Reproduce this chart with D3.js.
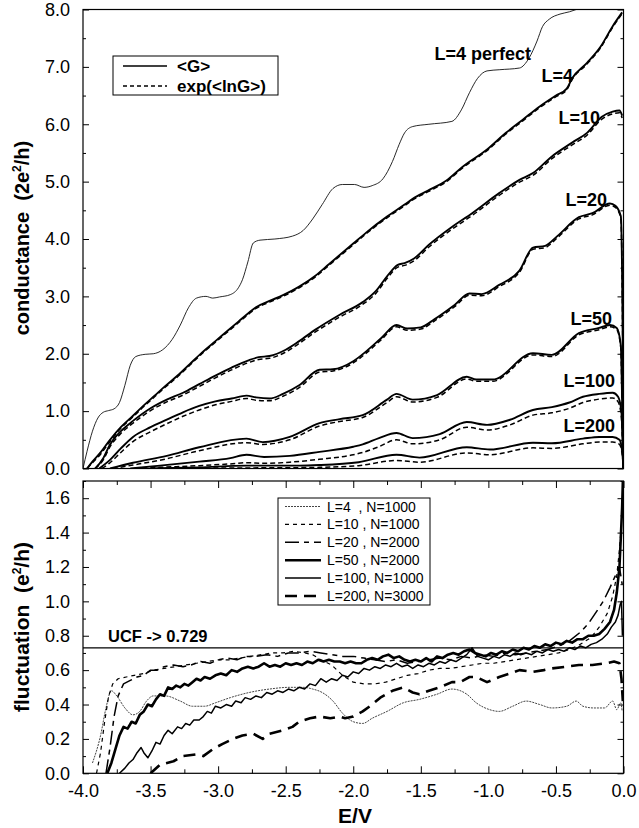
<!DOCTYPE html>
<html><head><meta charset="utf-8">
<script src="https://cdn.jsdelivr.net/npm/d3@7"></script>
<style>html,body{margin:0;padding:0;background:#fff}</style>
</head><body>
<svg id="chart" width="639" height="828"></svg>
<script>
// ---------------- DATA ----------------
// x values: E/V ; top panel: conductance (2e^2/h) ; bottom: fluctuation (e^2/h)
const yTicksTop = ["0.0","1.0","2.0","3.0","4.0","5.0","6.0","7.0","8.0"];
const yTicksBot = ["0.0","0.2","0.4","0.6","0.8","1.0","1.2","1.4","1.6"];
const xTicks = ["-4.0","-3.5","-3.0","-2.5","-2.0","-1.5","-1.0","-0.5","0.0"];

const G_perfect = [[-4.00,0],[-3.97,0.3],[-3.93,0.65],[-3.89,0.88],[-3.85,0.98],[-3.81,1.01],[-3.77,1.04],[-3.73,1.15],[-3.69,1.45],[-3.65,1.8],[-3.61,1.95],[-3.54,1.99],[-3.48,2.0],[-3.41,2.07],[-3.34,2.25],[-3.28,2.5],[-3.22,2.8],[-3.16,2.97],[-3.09,3.0],[-3.04,2.97],[-2.99,2.99],[-2.91,3.03],[-2.85,3.15],[-2.82,3.29],[-2.78,3.6],[-2.74,3.93],[-2.69,3.98],[-2.58,4.0],[-2.45,4.05],[-2.37,4.15],[-2.30,4.35],[-2.23,4.6],[-2.15,4.88],[-2.08,4.95],[-1.99,4.95],[-1.92,4.9],[-1.86,4.93],[-1.78,5.05],[-1.71,5.35],[-1.66,5.65],[-1.62,5.85],[-1.56,5.96],[-1.44,6.0],[-1.27,6.05],[-1.20,6.25],[-1.14,6.55],[-1.08,6.8],[-1.01,6.93],[-0.92,6.95],[-0.77,6.98],[-0.70,7.15],[-0.64,7.45],[-0.60,7.7],[-0.55,7.83],[-0.47,7.92],[-0.40,7.96],[-0.35,8.0],[-0.30,8.05]];

const G_L4 = [[-3.97,0],[-3.93,0.12],[-3.87,0.28],[-3.80,0.5],[-3.72,0.72],[-3.63,0.92],[-3.55,1.1],[-3.47,1.27],[-3.39,1.44],[-3.30,1.62],[-3.21,1.82],[-3.12,2.02],[-3.02,2.22],[-2.93,2.4],[-2.85,2.56],[-2.77,2.72],[-2.72,2.81],[-2.62,2.92],[-2.52,3.02],[-2.40,3.17],[-2.28,3.36],[-2.18,3.56],[-2.10,3.72],[-2.00,3.92],[-1.90,4.12],[-1.75,4.39],[-1.62,4.6],[-1.56,4.7],[-1.45,4.84],[-1.31,5.02],[-1.19,5.26],[-1.01,5.56],[-0.87,5.85],[-0.75,6.07],[-0.62,6.31],[-0.50,6.5],[-0.42,6.62],[-0.38,6.8],[-0.27,7.07],[-0.17,7.35],[-0.08,7.71],[-0.01,7.95]];
const lnG_L4 = [[-3.97,0],[-3.93,0.1],[-3.87,0.25],[-3.80,0.47],[-3.72,0.7],[-3.63,0.9],[-3.55,1.08],[-3.47,1.25],[-3.39,1.42],[-3.30,1.6],[-3.21,1.8],[-3.12,2.0],[-3.02,2.2],[-2.93,2.38],[-2.85,2.54],[-2.77,2.7],[-2.72,2.79],[-2.62,2.9],[-2.52,3.0],[-2.40,3.15],[-2.28,3.34],[-2.18,3.54],[-2.10,3.7],[-2.00,3.9],[-1.90,4.1],[-1.75,4.37],[-1.62,4.58],[-1.56,4.68],[-1.45,4.82],[-1.31,5.0],[-1.19,5.24],[-1.01,5.54],[-0.87,5.83],[-0.75,6.05],[-0.62,6.29],[-0.50,6.48],[-0.42,6.6],[-0.38,6.78],[-0.27,7.05],[-0.17,7.33],[-0.08,7.69],[-0.01,7.93]];

const G_L10 = [[-3.91,0],[-3.85,0.18],[-3.80,0.42],[-3.72,0.65],[-3.63,0.83],[-3.50,1.05],[-3.38,1.2],[-3.26,1.32],[-3.14,1.47],[-3.02,1.62],[-2.90,1.76],[-2.77,1.89],[-2.70,1.94],[-2.62,1.96],[-2.50,2.07],[-2.40,2.22],[-2.28,2.42],[-2.10,2.68],[-1.93,2.9],[-1.83,3.1],[-1.75,3.35],[-1.67,3.55],[-1.62,3.58],[-1.55,3.66],[-1.44,3.9],[-1.27,4.21],[-1.12,4.45],[-0.92,4.8],[-0.77,5.03],[-0.67,5.15],[-0.53,5.44],[-0.38,5.68],[-0.27,5.85],[-0.16,6.13],[-0.08,6.22],[-0.03,6.24],[-0.01,6.15]];
const lnG_L10 = [[-3.91,0],[-3.85,0.15],[-3.80,0.38],[-3.72,0.61],[-3.63,0.79],[-3.50,1.01],[-3.38,1.16],[-3.26,1.28],[-3.14,1.43],[-3.02,1.58],[-2.90,1.72],[-2.77,1.85],[-2.70,1.9],[-2.62,1.92],[-2.50,2.03],[-2.40,2.18],[-2.28,2.38],[-2.10,2.64],[-1.93,2.86],[-1.83,3.06],[-1.75,3.31],[-1.67,3.51],[-1.62,3.54],[-1.55,3.62],[-1.44,3.86],[-1.27,4.17],[-1.12,4.41],[-0.92,4.76],[-0.77,4.99],[-0.67,5.11],[-0.53,5.4],[-0.38,5.64],[-0.27,5.81],[-0.16,6.09],[-0.08,6.18],[-0.03,6.2],[-0.01,6.11]];

const G_L20 = [[-3.88,0],[-3.80,0.15],[-3.72,0.35],[-3.63,0.55],[-3.50,0.72],[-3.38,0.85],[-3.26,0.98],[-3.14,1.09],[-3.02,1.17],[-2.90,1.22],[-2.79,1.27],[-2.72,1.24],[-2.62,1.22],[-2.52,1.3],[-2.40,1.45],[-2.25,1.72],[-2.15,1.73],[-2.00,1.87],[-1.90,2.05],[-1.79,2.28],[-1.68,2.5],[-1.60,2.44],[-1.50,2.46],[-1.40,2.6],[-1.25,2.85],[-1.14,3.05],[-1.05,3.04],[-0.92,3.2],[-0.77,3.45],[-0.67,3.85],[-0.58,3.88],[-0.49,4.05],[-0.33,4.38],[-0.23,4.45],[-0.10,4.62],[-0.06,4.58],[-0.02,4.4],[-0.005,2.0],[0,0]];
const lnG_L20 = [[-3.86,0],[-3.80,0.1],[-3.72,0.28],[-3.63,0.47],[-3.50,0.64],[-3.38,0.78],[-3.26,0.91],[-3.14,1.02],[-3.02,1.11],[-2.90,1.17],[-2.79,1.22],[-2.72,1.19],[-2.62,1.18],[-2.52,1.26],[-2.40,1.41],[-2.25,1.68],[-2.15,1.7],[-2.00,1.84],[-1.90,2.02],[-1.79,2.25],[-1.68,2.47],[-1.60,2.41],[-1.50,2.43],[-1.40,2.57],[-1.25,2.82],[-1.14,3.02],[-1.05,3.01],[-0.92,3.17],[-0.77,3.42],[-0.67,3.82],[-0.58,3.85],[-0.49,4.02],[-0.33,4.35],[-0.23,4.42],[-0.10,4.59],[-0.06,4.55],[-0.02,4.37],[-0.005,1.9],[0,0]];

const G_L50 = [[-3.80,0],[-3.63,0.1],[-3.38,0.22],[-3.14,0.37],[-2.79,0.52],[-2.67,0.46],[-2.47,0.55],[-2.25,0.79],[-2.10,0.86],[-1.93,0.93],[-1.75,1.2],[-1.68,1.3],[-1.56,1.2],[-1.38,1.28],[-1.16,1.6],[-1.09,1.55],[-0.97,1.55],[-0.67,2.01],[-0.53,1.98],[-0.33,2.36],[-0.18,2.45],[-0.10,2.5],[-0.05,2.45],[-0.02,2.15],[-0.005,0.5],[0,0]];
const lnG_L50 = [[-3.78,0],[-3.63,0.06],[-3.38,0.17],[-3.14,0.31],[-2.79,0.45],[-2.67,0.42],[-2.47,0.5],[-2.25,0.74],[-2.10,0.82],[-1.93,0.89],[-1.75,1.15],[-1.68,1.25],[-1.56,1.16],[-1.38,1.24],[-1.16,1.56],[-1.09,1.52],[-0.97,1.52],[-0.67,1.98],[-0.53,1.95],[-0.33,2.33],[-0.18,2.42],[-0.10,2.47],[-0.05,2.42],[-0.02,2.1],[-0.005,0.4],[0,0]];

const G_L100 = [[-3.65,0],[-3.43,0.05],[-3.14,0.12],[-2.91,0.18],[-2.79,0.24],[-2.66,0.2],[-2.47,0.22],[-2.25,0.29],[-2.00,0.38],[-1.93,0.42],[-1.81,0.53],[-1.68,0.62],[-1.56,0.53],[-1.36,0.6],[-1.16,0.81],[-1.01,0.76],[-0.84,0.85],[-0.67,1.02],[-0.53,1.07],[-0.40,1.15],[-0.30,1.25],[-0.18,1.3],[-0.08,1.32],[-0.04,1.25],[-0.016,1.0],[-0.004,0.3],[0,0]];
const lnG_L100 = [[-3.62,0],[-3.43,0.02],[-3.14,0.05],[-2.91,0.08],[-2.79,0.1],[-2.66,0.09],[-2.47,0.11],[-2.25,0.16],[-2.00,0.24],[-1.93,0.28],[-1.81,0.38],[-1.68,0.5],[-1.56,0.43],[-1.36,0.5],[-1.16,0.72],[-1.01,0.67],[-0.84,0.76],[-0.67,0.93],[-0.53,0.97],[-0.40,1.05],[-0.30,1.15],[-0.18,1.21],[-0.08,1.23],[-0.04,1.16],[-0.016,0.9],[-0.004,0.25],[0,0]];

const G_L200 = [[-3.50,0],[-3.14,0.02],[-2.79,0.05],[-2.40,0.05],[-2.25,0.06],[-1.96,0.11],[-1.68,0.24],[-1.51,0.19],[-1.16,0.37],[-0.99,0.33],[-0.67,0.45],[-0.53,0.44],[-0.30,0.52],[-0.18,0.55],[-0.08,0.55],[-0.03,0.5],[-0.01,0.3],[0,0]];
const lnG_L200 = [[-3.45,0],[-3.14,0.005],[-2.79,0.01],[-2.40,0.015],[-2.25,0.02],[-1.96,0.05],[-1.68,0.14],[-1.51,0.11],[-1.16,0.27],[-0.99,0.24],[-0.67,0.36],[-0.53,0.35],[-0.30,0.43],[-0.18,0.46],[-0.08,0.46],[-0.03,0.42],[-0.01,0.25],[0,0]];

// fluctuation panel
const F_L4 = [[-3.93,0.06],[-3.87,0.22],[-3.83,0.38],[-3.79,0.48],[-3.75,0.45],[-3.69,0.38],[-3.63,0.34],[-3.58,0.36],[-3.53,0.42],[-3.48,0.45],[-3.39,0.45],[-3.28,0.42],[-3.19,0.39],[-3.10,0.39],[-3.02,0.41],[-2.91,0.44],[-2.77,0.47],[-2.62,0.49],[-2.47,0.5],[-2.37,0.5],[-2.30,0.49],[-2.23,0.47],[-2.15,0.42],[-2.08,0.35],[-2.00,0.3],[-1.93,0.29],[-1.86,0.32],[-1.75,0.36],[-1.63,0.41],[-1.51,0.43],[-1.38,0.46],[-1.27,0.49],[-1.16,0.46],[-1.09,0.41],[-0.99,0.37],[-0.92,0.36],[-0.82,0.39],[-0.72,0.42],[-0.62,0.4],[-0.53,0.38],[-0.42,0.39],[-0.35,0.42],[-0.30,0.39],[-0.22,0.38],[-0.14,0.38],[-0.08,0.42],[-0.05,0.37],[-0.02,0.41],[-0.01,0.36]];

const F_L10 = [[-3.90,0],[-3.87,0.12],[-3.84,0.3],[-3.81,0.45],[-3.78,0.52],[-3.74,0.55],[-3.68,0.56],[-3.62,0.57],[-3.55,0.58],[-3.48,0.6],[-3.40,0.61],[-3.32,0.62],[-3.24,0.63],[-3.16,0.64],[-3.08,0.65],[-3.00,0.66],[-2.92,0.66],[-2.84,0.67],[-2.76,0.68],[-2.68,0.69],[-2.60,0.7],[-2.52,0.7],[-2.44,0.71],[-2.36,0.7],[-2.30,0.69],[-2.24,0.66],[-2.16,0.63],[-2.08,0.57],[-2.00,0.53],[-1.92,0.52],[-1.84,0.52],[-1.76,0.53],[-1.68,0.55],[-1.60,0.57],[-1.52,0.58],[-1.44,0.6],[-1.36,0.61],[-1.28,0.61],[-1.20,0.62],[-1.12,0.63],[-1.04,0.64],[-0.96,0.64],[-0.88,0.65],[-0.80,0.66],[-0.72,0.67],[-0.64,0.68],[-0.56,0.69],[-0.48,0.7],[-0.40,0.72],[-0.32,0.75],[-0.24,0.79],[-0.18,0.85],[-0.12,0.93],[-0.08,1.03],[-0.05,1.15],[-0.03,1.3],[-0.015,1.45]];

const F_L20 = [[-3.83,0],[-3.80,0.15],[-3.77,0.33],[-3.74,0.45],[-3.70,0.52],[-3.65,0.54],[-3.60,0.56],[-3.55,0.57],[-3.50,0.6],[-3.45,0.6],[-3.40,0.62],[-3.33,0.63],[-3.26,0.62],[-3.20,0.63],[-3.13,0.65],[-3.06,0.64],[-3.00,0.66],[-2.93,0.67],[-2.86,0.66],[-2.80,0.68],[-2.72,0.68],[-2.64,0.69],[-2.56,0.68],[-2.48,0.7],[-2.40,0.7],[-2.32,0.71],[-2.24,0.7],[-2.16,0.69],[-2.08,0.68],[-2.00,0.68],[-1.92,0.67],[-1.84,0.66],[-1.76,0.65],[-1.68,0.66],[-1.60,0.64],[-1.52,0.65],[-1.44,0.66],[-1.36,0.67],[-1.28,0.66],[-1.20,0.68],[-1.12,0.67],[-1.04,0.69],[-0.96,0.68],[-0.88,0.7],[-0.80,0.69],[-0.72,0.7],[-0.64,0.71],[-0.56,0.72],[-0.48,0.74],[-0.40,0.77],[-0.32,0.82],[-0.26,0.87],[-0.20,0.94],[-0.15,1.0],[-0.10,1.08],[-0.06,1.15],[-0.03,1.2],[-0.01,1.1]];

const F_L50 = [[-3.82,0],[-3.79,0.06],[-3.76,0.14],[-3.73,0.22],[-3.70,0.27],[-3.67,0.26],[-3.64,0.3],[-3.61,0.29],[-3.58,0.34],[-3.55,0.36],[-3.52,0.4],[-3.49,0.39],[-3.46,0.43],[-3.43,0.46],[-3.40,0.45],[-3.37,0.5],[-3.34,0.49],[-3.31,0.51],[-3.28,0.5],[-3.25,0.52],[-3.22,0.51],[-3.19,0.53],[-3.16,0.55],[-3.13,0.54],[-3.10,0.56],[-3.06,0.55],[-3.02,0.57],[-2.98,0.58],[-2.94,0.57],[-2.90,0.6],[-2.86,0.59],[-2.82,0.61],[-2.78,0.62],[-2.74,0.61],[-2.70,0.62],[-2.66,0.64],[-2.62,0.62],[-2.58,0.63],[-2.54,0.62],[-2.50,0.64],[-2.46,0.63],[-2.42,0.64],[-2.38,0.63],[-2.34,0.65],[-2.30,0.64],[-2.26,0.66],[-2.22,0.65],[-2.18,0.66],[-2.14,0.65],[-2.10,0.65],[-2.06,0.64],[-2.02,0.65],[-1.98,0.64],[-1.94,0.64],[-1.90,0.66],[-1.86,0.67],[-1.82,0.66],[-1.78,0.68],[-1.74,0.69],[-1.70,0.67],[-1.66,0.68],[-1.62,0.66],[-1.58,0.65],[-1.54,0.66],[-1.50,0.65],[-1.46,0.67],[-1.42,0.65],[-1.38,0.68],[-1.34,0.67],[-1.30,0.69],[-1.26,0.7],[-1.22,0.69],[-1.18,0.71],[-1.14,0.72],[-1.10,0.7],[-1.06,0.69],[-1.02,0.68],[-0.98,0.7],[-0.94,0.69],[-0.90,0.71],[-0.86,0.7],[-0.82,0.72],[-0.78,0.71],[-0.74,0.73],[-0.70,0.72],[-0.66,0.74],[-0.62,0.73],[-0.58,0.75],[-0.54,0.74],[-0.50,0.76],[-0.46,0.75],[-0.42,0.77],[-0.38,0.76],[-0.34,0.78],[-0.30,0.78],[-0.26,0.8],[-0.22,0.8],[-0.18,0.81],[-0.14,0.84],[-0.10,0.88],[-0.07,0.95],[-0.05,1.05],[-0.03,1.2],[-0.02,1.37],[-0.01,1.55],[-0.004,1.72]];

const F_L100 = [[-3.73,0],[-3.69,0.03],[-3.66,0.06],[-3.63,0.08],[-3.60,0.12],[-3.57,0.15],[-3.55,0.12],[-3.52,0.09],[-3.49,0.13],[-3.46,0.18],[-3.43,0.17],[-3.40,0.22],[-3.37,0.25],[-3.34,0.23],[-3.30,0.27],[-3.27,0.26],[-3.24,0.29],[-3.21,0.28],[-3.18,0.31],[-3.14,0.31],[-3.11,0.33],[-3.08,0.36],[-3.05,0.35],[-3.02,0.39],[-2.98,0.38],[-2.94,0.4],[-2.90,0.39],[-2.87,0.42],[-2.83,0.41],[-2.80,0.44],[-2.76,0.43],[-2.72,0.45],[-2.68,0.44],[-2.64,0.47],[-2.60,0.46],[-2.56,0.48],[-2.52,0.47],[-2.48,0.49],[-2.44,0.48],[-2.40,0.5],[-2.36,0.49],[-2.32,0.52],[-2.28,0.51],[-2.24,0.55],[-2.20,0.53],[-2.16,0.55],[-2.12,0.54],[-2.08,0.57],[-2.04,0.56],[-2.00,0.59],[-1.96,0.58],[-1.92,0.61],[-1.88,0.6],[-1.84,0.62],[-1.80,0.61],[-1.76,0.63],[-1.72,0.62],[-1.68,0.64],[-1.64,0.62],[-1.60,0.63],[-1.56,0.61],[-1.52,0.63],[-1.48,0.62],[-1.44,0.64],[-1.40,0.63],[-1.36,0.65],[-1.32,0.64],[-1.28,0.66],[-1.24,0.65],[-1.20,0.67],[-1.16,0.69],[-1.12,0.73],[-1.08,0.68],[-1.04,0.67],[-1.00,0.66],[-0.96,0.68],[-0.92,0.67],[-0.88,0.69],[-0.84,0.68],[-0.80,0.7],[-0.76,0.69],[-0.72,0.7],[-0.68,0.69],[-0.64,0.71],[-0.60,0.7],[-0.56,0.72],[-0.52,0.71],[-0.48,0.72],[-0.44,0.71],[-0.40,0.73],[-0.36,0.72],[-0.32,0.74],[-0.28,0.73],[-0.24,0.75],[-0.20,0.76],[-0.16,0.78],[-0.12,0.81],[-0.09,0.85],[-0.06,0.88],[-0.04,0.92],[-0.025,0.98],[-0.015,1.0],[-0.008,0.8]];

const F_L200 = [[-3.50,0],[-3.43,0.05],[-3.33,0.07],[-3.26,0.1],[-3.16,0.11],[-3.11,0.1],[-3.04,0.14],[-2.97,0.17],[-2.89,0.2],[-2.82,0.22],[-2.74,0.23],[-2.67,0.2],[-2.62,0.23],[-2.52,0.25],[-2.45,0.27],[-2.40,0.3],[-2.32,0.32],[-2.25,0.33],[-2.17,0.32],[-2.10,0.33],[-2.06,0.32],[-2.00,0.33],[-1.93,0.36],[-1.86,0.4],[-1.80,0.44],[-1.71,0.48],[-1.63,0.5],[-1.56,0.47],[-1.51,0.46],[-1.44,0.48],[-1.36,0.5],[-1.27,0.53],[-1.21,0.53],[-1.14,0.56],[-1.09,0.56],[-1.01,0.53],[-0.92,0.56],[-0.84,0.58],[-0.77,0.6],[-0.67,0.59],[-0.59,0.6],[-0.53,0.61],[-0.42,0.62],[-0.33,0.63],[-0.23,0.63],[-0.13,0.64],[-0.07,0.65],[-0.03,0.64],[-0.015,0.55],[-0.005,0.42]];

const UCF = 0.729;

// ---------------- DRAW ----------------
const FONT = '"Liberation Sans", Arial, Helvetica, sans-serif';
const svg = d3.select('#chart');
svg.append('rect').attr('width',639).attr('height',828).attr('fill','#fff');

const X0 = 83, X1 = 623.5;
const x = d3.scaleLinear().domain([-4,0]).range([X0,X1]);
const yTop = d3.scaleLinear().domain([0,8]).range([468.5,9.5]);
const yBot = d3.scaleLinear().domain([0,1.7]).range([773.3,481]);

const defs = svg.append('defs');
defs.append('clipPath').attr('id','clipTop').append('rect')
  .attr('x',X0).attr('y',yTop(8)).attr('width',X1-X0).attr('height',yTop(0)-yTop(8));
defs.append('clipPath').attr('id','clipBot').append('rect')
  .attr('x',X0).attr('y',yBot(1.7)).attr('width',X1-X0).attr('height',yBot(0)-yBot(1.7));

function draw(g, data, y, w, dash, color, curve) {
  g.append('path').datum(data)
    .attr('d', d3.line().x(d=>x(d[0])).y(d=>y(d[1])).curve(curve||d3.curveLinear))
    .attr('fill','none').attr('stroke',color||'#000').attr('stroke-width',w)
    .attr('stroke-dasharray',dash||null).attr('stroke-linejoin','round');
}

function styleAxis(sel, size) {
  sel.select('.domain').remove();
  sel.selectAll('text').attr('font-family',FONT).attr('font-size',size).attr('fill','#000');
  sel.selectAll('line').attr('stroke','#000').attr('stroke-width',1);
}

// ---- top panel ----
const gT = svg.append('g');
const curvesT = gT.append('g').attr('clip-path','url(#clipTop)');
const sm = d3.curveMonotoneX;
draw(curvesT, G_perfect, yTop, 0.9, null, '#111', sm);
[[G_L4,lnG_L4],[G_L10,lnG_L10],[G_L20,lnG_L20],[G_L50,lnG_L50],[G_L100,lnG_L100],[G_L200,lnG_L200]].forEach(([a,b])=>{
  draw(curvesT, b, yTop, 1.5, '5,3', '#000', sm);
  draw(curvesT, a, yTop, 1.9, null, '#000', sm);
});
gT.append('rect').attr('x',X0).attr('y',yTop(8)).attr('width',X1-X0).attr('height',yTop(0)-yTop(8))
  .attr('fill','none').attr('stroke','#000').attr('stroke-width',1.2);

const topMajor = yTicksTop.map(Number);
const topMinor = d3.range(0.5,8,1);
gT.append('g').attr('transform',`translate(${X0},0)`)
  .call(d3.axisLeft(yTop).tickValues(topMajor).tickSize(-6).tickPadding(13).tickFormat((d,i)=>yTicksTop[i]))
  .call(s=>styleAxis(s,18));
gT.append('g').attr('transform',`translate(${X0},0)`)
  .call(d3.axisLeft(yTop).tickValues(topMinor).tickSize(-3).tickFormat(''))
  .call(s=>styleAxis(s,18));
gT.append('g').attr('transform',`translate(${X1},0)`)
  .call(d3.axisRight(yTop).tickValues(topMajor).tickSize(-6).tickFormat(''))
  .call(s=>styleAxis(s,18));
gT.append('g').attr('transform',`translate(${X1},0)`)
  .call(d3.axisRight(yTop).tickValues(topMinor).tickSize(-3).tickFormat(''))
  .call(s=>styleAxis(s,18));

// curve labels
const topLabels = [["L=4 perfect",531,60],["L=4",573,82],["L=10",600,124],["L=20",607,206],["L=50",612,325],["L=100",615,387],["L=200",615,432]];
gT.selectAll('text.lab').data(topLabels).enter().append('text').attr('class','lab')
  .attr('x',d=>d[1]).attr('y',d=>d[2]).attr('text-anchor','end')
  .attr('font-family',FONT).attr('font-weight','bold').attr('font-size',18).text(d=>d[0]);

// top legend
const lgT = gT.append('g');
lgT.append('rect').attr('x',113).attr('y',56).attr('width',165).attr('height',39).attr('fill','#fff').attr('stroke','#000').attr('stroke-width',1);
lgT.append('line').attr('x1',123).attr('x2',167).attr('y1',66).attr('y2',66).attr('stroke','#000').attr('stroke-width',1.5);
lgT.append('line').attr('x1',123).attr('x2',167).attr('y1',86).attr('y2',86).attr('stroke','#000').attr('stroke-width',1.3).attr('stroke-dasharray','4,3');
lgT.append('text').attr('x',177).attr('y',72).attr('font-family',FONT).attr('font-weight','bold').attr('font-size',17).text('<G>');
lgT.append('text').attr('x',177).attr('y',92).attr('font-family',FONT).attr('font-weight','bold').attr('font-size',17).text('exp(<lnG>)');

// ---- bottom panel ----
const gB = svg.append('g');
const curvesB = gB.append('g').attr('clip-path','url(#clipBot)');
const series = [
  {name:"L=4  , N=1000", data:F_L4,  w:1.0, dash:'2,1',     color:'#444', curve:sm},
  {name:"L=10 , N=1000", data:F_L10, w:1.2, dash:'4,4',     color:'#000', curve:d3.curveLinear},
  {name:"L=20 , N=2000", data:F_L20, w:1.5, dash:'14,5,5,5',color:'#000', curve:d3.curveLinear},
  {name:"L=50 , N=2000", data:F_L50, w:2.6, dash:null,      color:'#000', curve:d3.curveLinear},
  {name:"L=100, N=1000", data:F_L100,w:1.5, dash:null,      color:'#000', curve:d3.curveLinear},
  {name:"L=200, N=3000", data:F_L200,w:2.6, dash:'12,7',    color:'#000', curve:d3.curveLinear}
];
series.forEach(s=>draw(curvesB, s.data, yBot, s.w, s.dash, s.color, s.curve));

// UCF line
gB.append('line').attr('x1',X0).attr('x2',X1).attr('y1',yBot(UCF)).attr('y2',yBot(UCF)).attr('stroke','#000').attr('stroke-width',1.3);
gB.append('text').attr('x',108).attr('y',642).attr('font-family',FONT).attr('font-weight','bold').attr('font-size',16.5).text('UCF -> '+UCF);

gB.append('rect').attr('x',X0).attr('y',yBot(1.7)).attr('width',X1-X0).attr('height',yBot(0)-yBot(1.7))
  .attr('fill','none').attr('stroke','#000').attr('stroke-width',1.2);

const botMajor = yTicksBot.map(Number);
const botMinor = d3.range(0.1,1.71,0.2);
gB.append('g').attr('transform',`translate(${X0},0)`)
  .call(d3.axisLeft(yBot).tickValues(botMajor).tickSize(-6).tickPadding(13).tickFormat((d,i)=>yTicksBot[i]))
  .call(s=>styleAxis(s,18));
gB.append('g').attr('transform',`translate(${X0},0)`)
  .call(d3.axisLeft(yBot).tickValues(botMinor).tickSize(-3).tickFormat(''))
  .call(s=>styleAxis(s,18));
gB.append('g').attr('transform',`translate(${X1},0)`)
  .call(d3.axisRight(yBot).tickValues(botMajor).tickSize(-6).tickFormat(''))
  .call(s=>styleAxis(s,18));
gB.append('g').attr('transform',`translate(${X1},0)`)
  .call(d3.axisRight(yBot).tickValues(botMinor).tickSize(-3).tickFormat(''))
  .call(s=>styleAxis(s,18));

const xMajor = xTicks.map(Number);
const xMinor = d3.range(-3.75,0,0.5);
gB.append('g').attr('transform',`translate(0,${yBot(0)})`)
  .call(d3.axisBottom(x).tickValues(xMajor).tickSize(-7).tickPadding(11).tickFormat((d,i)=>xTicks[i]))
  .call(s=>styleAxis(s,18));
gB.append('g').attr('transform',`translate(0,${yBot(0)})`)
  .call(d3.axisBottom(x).tickValues(xMinor).tickSize(-4).tickFormat(''))
  .call(s=>styleAxis(s,18));
gB.append('g').attr('transform',`translate(0,${yBot(1.7)})`)
  .call(d3.axisTop(x).tickValues(xMajor).tickSize(-7).tickFormat(''))
  .call(s=>styleAxis(s,18));
gB.append('g').attr('transform',`translate(0,${yBot(1.7)})`)
  .call(d3.axisTop(x).tickValues(xMinor).tickSize(-4).tickFormat(''))
  .call(s=>styleAxis(s,18));

// bottom legend
const lgB = gB.append('g');
lgB.append('rect').attr('x',278).attr('y',498).attr('width',152).attr('height',107).attr('fill','#fff').attr('stroke','#000').attr('stroke-width',1);
series.forEach((s,i)=>{
  const yb = 511.5 + i*17.9;
  lgB.append('line').attr('x1',285).attr('x2',321).attr('y1',yb-5).attr('y2',yb-5)
    .attr('stroke',s.color).attr('stroke-width',s.w).attr('stroke-dasharray',s.dash);
  lgB.append('text').attr('x',327).attr('y',yb).attr('font-family',FONT).attr('font-size',14)
    .style('white-space','pre').text(s.name);
});

// axis titles
function supTitle(cx, cy, main, after, fs) {
  const t = svg.append('text').attr('transform',`translate(${cx},${cy}) rotate(-90)`).attr('text-anchor','middle')
    .attr('font-family',FONT).attr('font-weight','bold').attr('font-size',fs).style('white-space','pre');
  t.append('tspan').text(main);
  t.append('tspan').attr('font-size',12).attr('dy',-8).text('2');
  t.append('tspan').attr('dy',8).text(after);
}
supTitle(29, 238, 'conductance  (2e', '/h)', 20);
supTitle(29, 627, 'fluctuation  (e', '/h)', 21);
svg.append('text').attr('x',355).attr('y',823).attr('text-anchor','middle').attr('font-family',FONT)
  .attr('font-weight','bold').attr('font-size',21).text('E/V');
</script>
</body></html>
